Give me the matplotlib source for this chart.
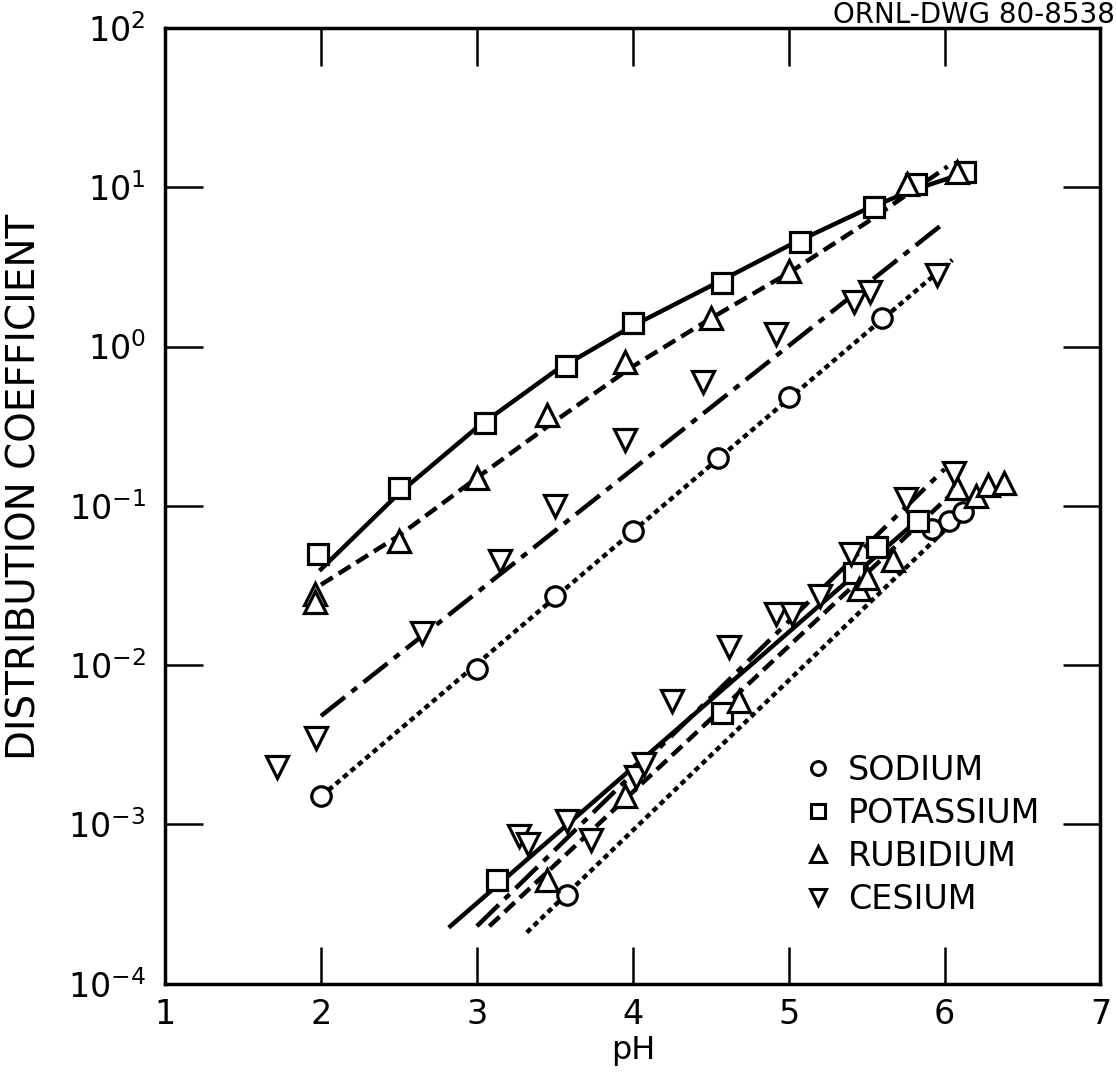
import matplotlib
matplotlib.use("Agg")
import matplotlib.pyplot as plt
from matplotlib.lines import Line2D

plt.rcParams['font.family'] = ['DejaVu Sans']
plt.rcParams['lines.scale_dashes'] = False

# ---- upper group: measured points ----
na_x = [2.0, 3.0, 3.5, 4.0, 4.55, 5.0, 5.6]
na_y = [0.0015, 0.0095, 0.027, 0.07, 0.2, 0.48, 1.5]

k_x = [1.98, 2.5, 3.05, 3.57, 4.0, 4.57, 5.07, 5.55, 5.82, 6.13]
k_y = [0.05, 0.13, 0.33, 0.75, 1.4, 2.5, 4.5, 7.5, 10.5, 12.5]

rb_x = [1.96, 1.96, 2.5, 3.0, 3.45, 3.95, 4.5, 5.0, 5.76, 6.08]
rb_y = [0.028, 0.025, 0.06, 0.15, 0.37, 0.8, 1.5, 3.0, 10.5, 12.5]

cs_x = [1.72, 1.97, 2.65, 3.15, 3.5, 3.95, 4.45, 4.92, 5.42, 5.52, 5.95]
cs_y = [0.0023, 0.0035, 0.016, 0.045, 0.10, 0.26, 0.6, 1.2, 1.9, 2.2, 2.8]

# upper fitted curves
k_fit_x = [2.0, 2.5, 3.0, 3.5, 4.0, 4.5, 5.0, 5.5, 5.8, 6.15]
k_fit_y = [0.04, 0.12, 0.31, 0.70, 1.35, 2.4, 4.3, 7.3, 9.6, 12.5]
rb_fit_x = [2.0, 2.5, 3.0, 3.5, 4.0, 4.5, 5.0, 5.5, 6.02]
rb_fit_y = [0.032, 0.065, 0.15, 0.34, 0.75, 1.5, 2.9, 6.0, 13.5]
cs_fit_x = [2.0, 6.0]
cs_fit_y = [0.0048, 6.0]
na_fit_x = [2.0, 6.05]
na_fit_y = [0.0015, 3.5]

# ---- lower group: measured points ----
na2_x = [3.58, 5.92, 6.03, 6.12]
na2_y = [0.00036, 0.072, 0.08, 0.092]

k2_x = [3.13, 4.57, 5.42, 5.57, 5.83]
k2_y = [0.00045, 0.005, 0.038, 0.055, 0.08]

rb2_x = [3.45, 3.95, 4.68, 5.45, 5.5, 5.67, 6.08, 6.2, 6.28, 6.38]
rb2_y = [0.00045, 0.0015, 0.006, 0.03, 0.035, 0.046, 0.13, 0.115, 0.135, 0.14]

cs2_x = [3.27, 3.33, 3.58, 3.73, 4.02, 4.07, 4.25, 4.62, 4.92, 5.02, 5.2, 5.4, 5.75, 6.06]
cs2_y = [0.00085, 0.00075, 0.00105, 0.0008, 0.002, 0.0024, 0.006, 0.013, 0.021, 0.021,
         0.027, 0.05, 0.11, 0.16]

# lower fitted lines
k2_fit_x = [2.83, 5.85]
k2_fit_y = [0.00023, 0.085]
cs2_fit_x = [3.0, 6.0]
cs2_fit_y = [0.00023, 0.17]
rb2_fit_x = [3.08, 6.05]
rb2_fit_y = [0.00023, 0.12]
na2_fit_x = [3.32, 6.0]
na2_fit_y = [0.00021, 0.07]

x_ticks = [1, 2, 3, 4, 5, 6, 7]
y_ticks = [1e-4, 1e-3, 1e-2, 1e-1, 1e0, 1e1, 1e2]
y_labels = [r'$10^{-4}$', r'$10^{-3}$', r'$10^{-2}$', r'$10^{-1}$',
            r'$10^{0}$', r'$10^{1}$', r'$10^{2}$']
names = ['SODIUM', 'POTASSIUM', 'RUBIDIUM', 'CESIUM']

fig = plt.figure(figsize=(11.16, 10.74), dpi=100)
ax = fig.add_axes([0.148, 0.084, 0.838, 0.890])
ax.set_yscale('log')

lw = 3.2
styles = {
    'na': dict(color='black', lw=lw, dashes=(4, 3)),
    'k': dict(color='black', lw=lw, linestyle='-'),
    'rb': dict(color='black', lw=lw, dashes=(10, 5)),
    'cs': dict(color='black', lw=lw, dashes=(22, 6, 5, 6)),
}

# lines
ax.plot(na_fit_x, na_fit_y, **styles['na'])
ax.plot(k_fit_x, k_fit_y, **styles['k'])
ax.plot(rb_fit_x, rb_fit_y, **styles['rb'])
ax.plot(cs_fit_x, cs_fit_y, **styles['cs'])
ax.plot(na2_fit_x, na2_fit_y, **styles['na'])
ax.plot(k2_fit_x, k2_fit_y, **styles['k'])
ax.plot(rb2_fit_x, rb2_fit_y, **styles['rb'])
ax.plot(cs2_fit_x, cs2_fit_y, **styles['cs'])

mk = dict(linestyle='none', mfc='white', mec='black', mew=2.3, zorder=5)
ax.plot(na_x, na_y, marker='o', ms=14, **mk)
ax.plot(na2_x, na2_y, marker='o', ms=14, **mk)
ax.plot(k_x, k_y, marker='s', ms=15, **mk)
ax.plot(k2_x, k2_y, marker='s', ms=15, **mk)
ax.plot(rb_x, rb_y, marker='^', ms=16, **mk)
ax.plot(rb2_x, rb2_y, marker='^', ms=16, **mk)
ax.plot(cs_x, cs_y, marker='v', ms=16, **mk)
ax.plot(cs2_x, cs2_y, marker='v', ms=16, **mk)

ax.set_xlim(1, 7)
ax.set_ylim(1e-4, 1e2)
ax.set_xticks(x_ticks)
ax.set_yticks(y_ticks)
ax.set_yticklabels(y_labels)
ax.minorticks_off()
ax.tick_params(which='major', direction='in', length=27, width=1.8,
               top=True, right=True, labelsize=24)
ax.tick_params(axis='y', pad=14)
ax.tick_params(axis='x', pad=10)
for s in ax.spines.values():
    s.set_linewidth(2.5)

ax.set_xlabel('pH', fontsize=23, labelpad=3)
ax.set_ylabel('DISTRIBUTION COEFFICIENT', fontsize=28, labelpad=12)
ax.yaxis.set_label_coords(-0.13, 0.52)

handles = [
    Line2D([], [], marker='o', ms=10, mfc='white', mec='black', mew=2.2, linestyle='none'),
    Line2D([], [], marker='s', ms=10, mfc='white', mec='black', mew=2.2, linestyle='none'),
    Line2D([], [], marker='^', ms=11, mfc='white', mec='black', mew=2.2, linestyle='none'),
    Line2D([], [], marker='v', ms=11, mfc='white', mec='black', mew=2.2, linestyle='none'),
]
ax.legend(handles, names, loc='lower left', bbox_to_anchor=(0.648, 0.04),
          frameon=False, fontsize=24, handletextpad=0.4, labelspacing=0.3,
          handlelength=1.0)

fig.text(0.999, 0.999, 'ORNL-DWG 80-8538', ha='right', va='top', fontsize=20)

fig.savefig('out.png', dpi=100, facecolor='white')
